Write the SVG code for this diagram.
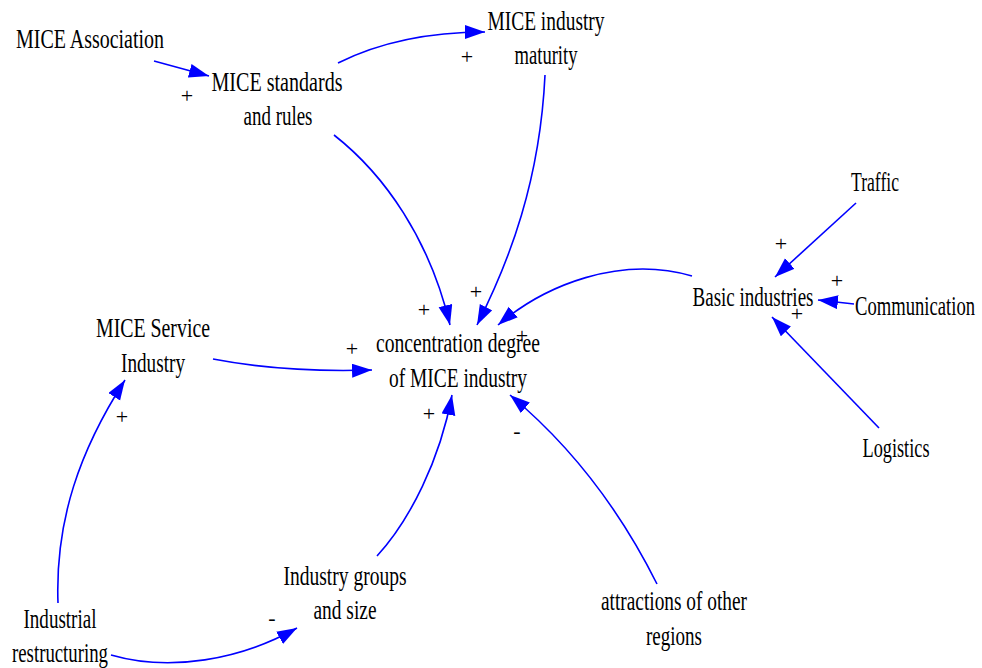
<svg xmlns="http://www.w3.org/2000/svg" width="982" height="668" viewBox="0 0 982 668">
<style>
.n{font-family:"Liberation Serif","Times New Roman",serif;font-size:27px;fill:#000;text-anchor:middle}
.p{font-family:"Liberation Serif","Times New Roman",serif;font-size:22px;fill:#000;text-anchor:middle}
.c{fill:none;stroke:#0000FF;stroke-width:1.6}
</style>
<defs>
<marker id="ah" markerUnits="userSpaceOnUse" markerWidth="22" markerHeight="16" refX="20" refY="7" orient="auto">
<path d="M0,0 L20,7 L0,14 z" fill="#0000FF"/>
</marker>
</defs>
<rect width="982" height="668" fill="#fff"/>
<g id="connectors">
<path class="c" marker-end="url(#ah)" d="M154,61 L209,76"/>
<path class="c" marker-end="url(#ah)" d="M338,63 C380,42 430,32 485,32"/>
<path class="c" marker-end="url(#ah)" d="M334,135 C385,175 430,240 450,325"/>
<path class="c" marker-end="url(#ah)" d="M545,75 C540,180 510,260 477,325"/>
<path class="c" marker-end="url(#ah)" d="M692,276 C620,255 545,285 498,325"/>
<path class="c" marker-end="url(#ah)" d="M856,203 L775,277"/>
<path class="c" marker-end="url(#ah)" d="M854,304 L818,300"/>
<path class="c" marker-end="url(#ah)" d="M879,428 L772,317"/>
<path class="c" marker-end="url(#ah)" d="M213,359 C260,368 310,372 372,370"/>
<path class="c" marker-end="url(#ah)" d="M58,603 C55,520 80,450 125,380"/>
<path class="c" marker-end="url(#ah)" d="M111,655 C170,672 240,660 297,628"/>
<path class="c" marker-end="url(#ah)" d="M377,556 C410,520 440,460 452,395"/>
<path class="c" marker-end="url(#ah)" d="M657,584 C620,510 570,445 510,395"/>
</g>
<g id="polarities">
<text class="p" x="187" y="103">+</text>
<text class="p" x="467" y="64">+</text>
<text class="p" x="424" y="317">+</text>
<text class="p" x="476" y="299">+</text>
<text class="p" x="522" y="343">+</text>
<text class="p" x="352" y="356">+</text>
<text class="p" x="429" y="421">+</text>
<text class="p" x="517" y="438">-</text>
<text class="p" x="781" y="251">+</text>
<text class="p" x="837" y="288">+</text>
<text class="p" x="797" y="321">+</text>
<text class="p" x="122" y="424">+</text>
<text class="p" x="272" y="625">-</text>
</g>
<g id="mice-association"><text class="n" x="90" y="48" textLength="148" lengthAdjust="spacingAndGlyphs">MICE Association</text></g>
<g id="mice-standards"><text class="n" x="277" y="91" textLength="131" lengthAdjust="spacingAndGlyphs">MICE standards</text><text class="n" x="278" y="125" textLength="69" lengthAdjust="spacingAndGlyphs">and rules</text></g>
<g id="mice-maturity"><text class="n" x="546" y="30" textLength="117" lengthAdjust="spacingAndGlyphs">MICE industry</text><text class="n" x="546" y="64" textLength="63" lengthAdjust="spacingAndGlyphs">maturity</text></g>
<g id="traffic"><text class="n" x="875" y="191" textLength="48" lengthAdjust="spacingAndGlyphs">Traffic</text></g>
<g id="basic-industries"><text class="n" x="753" y="306" textLength="121" lengthAdjust="spacingAndGlyphs">Basic industries</text></g>
<g id="communication"><text class="n" x="915" y="315" textLength="120" lengthAdjust="spacingAndGlyphs">Communication</text></g>
<g id="logistics"><text class="n" x="896" y="457" textLength="67" lengthAdjust="spacingAndGlyphs">Logistics</text></g>
<g id="concentration"><text class="n" x="458" y="352" textLength="164" lengthAdjust="spacingAndGlyphs">concentration degree</text><text class="n" x="458" y="387" textLength="138" lengthAdjust="spacingAndGlyphs">of MICE industry</text></g>
<g id="mice-service"><text class="n" x="153" y="337" textLength="114" lengthAdjust="spacingAndGlyphs">MICE Service</text><text class="n" x="153" y="372" textLength="64" lengthAdjust="spacingAndGlyphs">Industry</text></g>
<g id="industrial-restructuring"><text class="n" x="60" y="628" textLength="73" lengthAdjust="spacingAndGlyphs">Industrial</text><text class="n" x="60" y="662" textLength="96" lengthAdjust="spacingAndGlyphs">restructuring</text></g>
<g id="industry-groups"><text class="n" x="345" y="585" textLength="123" lengthAdjust="spacingAndGlyphs">Industry groups</text><text class="n" x="345" y="619" textLength="63" lengthAdjust="spacingAndGlyphs">and size</text></g>
<g id="attractions"><text class="n" x="674" y="610" textLength="146" lengthAdjust="spacingAndGlyphs">attractions of other</text><text class="n" x="674" y="645" textLength="56" lengthAdjust="spacingAndGlyphs">regions</text></g>
</svg>
